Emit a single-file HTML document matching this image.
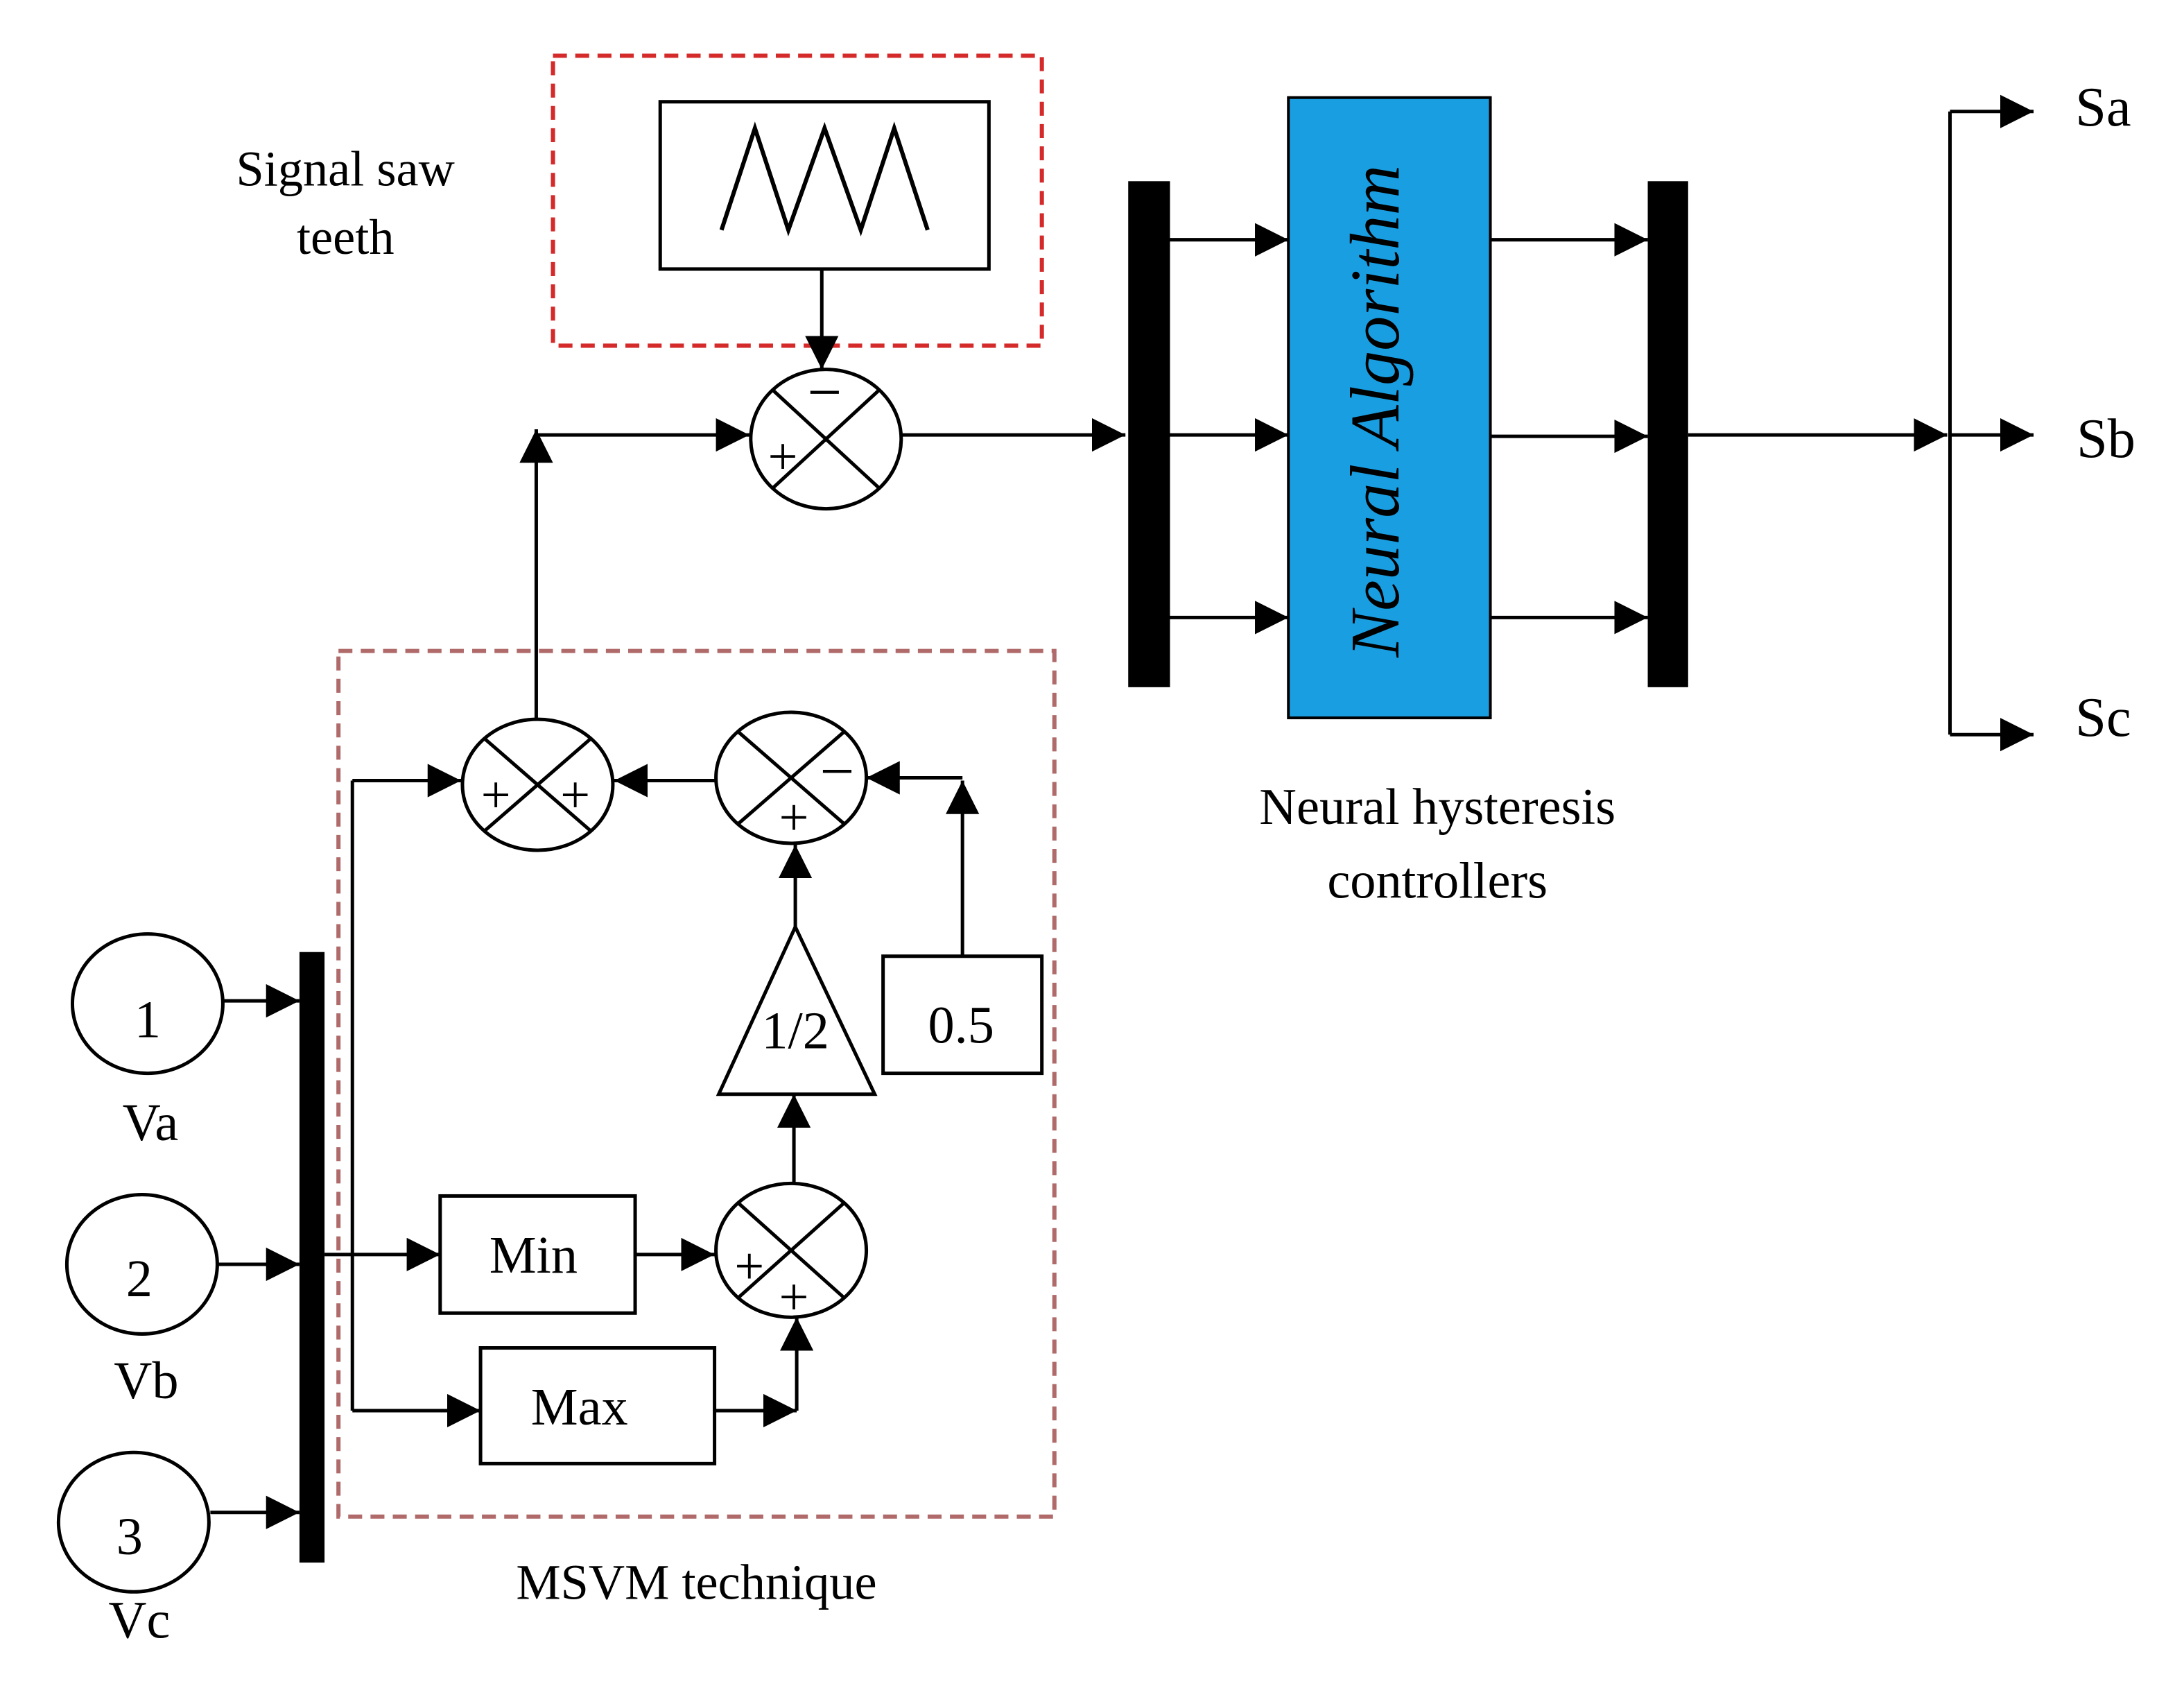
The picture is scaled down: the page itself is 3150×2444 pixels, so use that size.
<!DOCTYPE html>
<html><head><meta charset="utf-8"><style>
html,body{margin:0;padding:0;background:#fff;}
svg{display:block;}
text{font-family:"Liberation Serif",serif;fill:#000;}
</style></head><body>
<svg width="3150" height="2444" viewBox="0 0 1568 1216" preserveAspectRatio="none" xmlns="http://www.w3.org/2000/svg">
<defs>
<marker id="b" viewBox="0 0 10 10" refX="10" refY="5" markerWidth="24" markerHeight="24" markerUnits="userSpaceOnUse" orient="auto">
<path d="M0,0 L10,5 L0,10 z" fill="#000"/></marker>
</defs>
<g stroke="#000" stroke-width="2.5" fill="none">
<rect x="397" y="40" width="351" height="208" stroke="#d42a2a" stroke-dasharray="10,6" stroke-width="3"/>
<rect x="474" y="73" width="236" height="120"/>
<polyline points="518,165 542,92 566,165 592,92 618,165 642,92 666,165" stroke-width="3"/>
<rect x="243" y="467" width="514" height="621" stroke="#b06a6a" stroke-dasharray="10,6" stroke-width="3"/>
<ellipse cx="593" cy="315" rx="54" ry="50"/>
<line x1="555" y1="280" x2="631" y2="350"/><line x1="631" y1="280" x2="555" y2="350"/>
<ellipse cx="386" cy="563" rx="54" ry="47"/>
<line x1="348" y1="530" x2="424" y2="596"/><line x1="424" y1="530" x2="348" y2="596"/>
<ellipse cx="568" cy="558" rx="54" ry="47"/>
<line x1="530" y1="525" x2="606" y2="591"/><line x1="606" y1="525" x2="530" y2="591"/>
<ellipse cx="568" cy="897" rx="54" ry="48"/>
<line x1="530" y1="863" x2="606" y2="931"/><line x1="606" y1="863" x2="530" y2="931"/>
<polygon points="571,665 516,785 628,785"/>
<rect x="634" y="686" width="114" height="84"/>
<rect x="316" y="858" width="140" height="84"/>
<rect x="345" y="967" width="168" height="83"/>
<ellipse cx="106" cy="720" rx="54" ry="50"/>
<ellipse cx="102" cy="907" rx="54" ry="50"/>
<ellipse cx="96" cy="1092" rx="54" ry="50"/>
</g>
<rect x="215" y="683" width="18" height="438" fill="#000"/>
<rect x="810" y="130" width="30" height="363" fill="#000"/>
<rect x="1183" y="130" width="29" height="363" fill="#000"/>
<rect x="925" y="70" width="145" height="445" fill="#1a9ee2" stroke="#000" stroke-width="2"/>
<g stroke="#000" stroke-width="2.5" fill="none">
<line x1="590" y1="193" x2="590" y2="265" marker-end="url(#b)"/>
<line x1="385" y1="515" x2="385" y2="308" marker-end="url(#b)"/>
<line x1="385" y1="312" x2="538" y2="312" marker-end="url(#b)"/>
<line x1="648" y1="312" x2="808" y2="312" marker-end="url(#b)"/>
<line x1="840" y1="172" x2="925" y2="172" marker-end="url(#b)"/>
<line x1="840" y1="312" x2="925" y2="312" marker-end="url(#b)"/>
<line x1="840" y1="443" x2="925" y2="443" marker-end="url(#b)"/>
<line x1="1070" y1="172" x2="1183" y2="172" marker-end="url(#b)"/>
<line x1="1070" y1="313" x2="1183" y2="313" marker-end="url(#b)"/>
<line x1="1070" y1="443" x2="1183" y2="443" marker-end="url(#b)"/>
<line x1="1212" y1="312" x2="1398" y2="312" marker-end="url(#b)"/>
<line x1="1400" y1="80" x2="1400" y2="527"/>
<line x1="1400" y1="80" x2="1460" y2="80" marker-end="url(#b)"/>
<line x1="1400" y1="312" x2="1460" y2="312" marker-end="url(#b)"/>
<line x1="1400" y1="527" x2="1460" y2="527" marker-end="url(#b)"/>
<line x1="160" y1="718" x2="215" y2="718" marker-end="url(#b)"/>
<line x1="157" y1="907" x2="215" y2="907" marker-end="url(#b)"/>
<line x1="151" y1="1085" x2="215" y2="1085" marker-end="url(#b)"/>
<line x1="233" y1="900" x2="316" y2="900" marker-end="url(#b)"/>
<line x1="253" y1="560" x2="253" y2="1012"/>
<line x1="253" y1="560" x2="331" y2="560" marker-end="url(#b)"/>
<line x1="253" y1="1012" x2="345" y2="1012" marker-end="url(#b)"/>
<line x1="456" y1="900" x2="513" y2="900" marker-end="url(#b)"/>
<line x1="513" y1="1012" x2="572" y2="1012" marker-end="url(#b)"/>
<line x1="572" y1="1012" x2="572" y2="945" marker-end="url(#b)"/>
<line x1="570" y1="848" x2="570" y2="785" marker-end="url(#b)"/>
<line x1="571" y1="665" x2="571" y2="606" marker-end="url(#b)"/>
<line x1="691" y1="686" x2="691" y2="560" marker-end="url(#b)"/>
<line x1="691" y1="558" x2="622" y2="558" marker-end="url(#b)"/>
<line x1="514" y1="560" x2="441" y2="560" marker-end="url(#b)"/>
</g>
<g font-size="38" text-anchor="middle">
<text x="592" y="296" font-size="44">−</text>
<text x="562" y="340">+</text>
<text x="356" y="583">+</text>
<text x="413" y="583">+</text>
<text x="601" y="568" font-size="44">−</text>
<text x="570" y="599">+</text>
<text x="538" y="921">+</text>
<text x="570" y="943">+</text>
</g>
<g font-size="38" text-anchor="middle">
<text x="571" y="752">1/2</text>
<text x="690" y="748">0.5</text>
<text x="383" y="913">Min</text>
<text x="416" y="1022">Max</text>
<text x="106" y="744">1</text>
<text x="100" y="930">2</text>
<text x="93" y="1115">3</text>
<text x="108" y="818">Va</text>
<text x="105" y="1003">Vb</text>
<text x="100" y="1175">Vc</text>
<text x="500" y="1147" font-size="36">MSVM technique</text>
<text x="248" y="133" font-size="36">Signal saw</text>
<text x="248" y="182" font-size="36">teeth</text>
<text x="1032" y="591" font-size="37">Neural hysteresis</text>
<text x="1032" y="644" font-size="37">controllers</text>
<text x="1510" y="90" font-size="40">Sa</text>
<text x="1512" y="328" font-size="40">Sb</text>
<text x="1510" y="528" font-size="40">Sc</text>
<text transform="translate(1004,295) rotate(-90)" font-size="50" font-style="italic">Neural Algorithm</text>
</g>
</svg>
</body></html>
